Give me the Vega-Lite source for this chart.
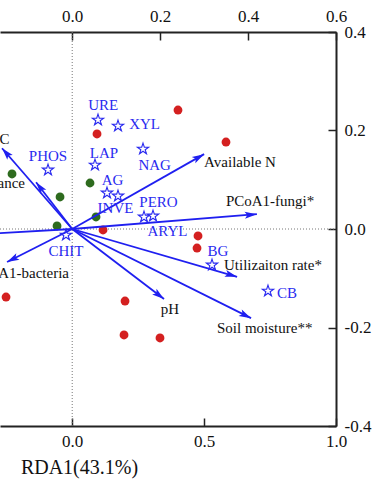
{
  "$schema": "https://vega.github.io/schema/vega-lite/v6.json",
  "width": 336,
  "height": 394,
  "autosize": {"type": "none"},
  "padding": {"left": 0, "top": 32, "right": 51, "bottom": 59},
  "background": "white",
  "config": {
    "view": {"stroke": null},
    "font": "Liberation Serif",
    "axis": {
      "labelFont": "Liberation Serif", "labelFontSize": 17, "labelColor": "#111",
      "titleFont": "Liberation Serif", "titleFontWeight": "normal", "titleColor": "#111",
      "domainColor": "#222", "domainWidth": 2, "tickColor": "#222", "tickWidth": 1.5,
      "grid": false, "labelFlush": false, "labelOverlap": false
    }
  },
  "datasets": {
    "red": [
      {"x": 0.401, "y": 0.2416}, {"x": 0.094, "y": 0.1929}, {"x": 0.583, "y": 0.1766},
      {"x": 0.1168, "y": -0.002}, {"x": 0.4769, "y": -0.0142}, {"x": 0.4731, "y": -0.0386},
      {"x": -0.2509, "y": -0.1381}, {"x": 0.2002, "y": -0.1462}, {"x": 0.1964, "y": -0.2152},
      {"x": 0.3328, "y": -0.2213}
    ],
    "green": [
      {"x": -0.2282, "y": 0.1117}, {"x": -0.0462, "y": 0.065}, {"x": -0.0576, "y": 0.0061},
      {"x": 0.0675, "y": 0.0934}, {"x": 0.0902, "y": 0.0244}
    ],
    "env": [
      {"name": "Available N", "x": 0.5, "y": 0.152},
      {"name": "PCoA1-fungi*", "x": 0.7, "y": 0.03},
      {"name": "Utilizaiton rate*", "x": 0.625, "y": -0.097},
      {"name": "pH", "x": 0.348, "y": -0.142},
      {"name": "Soil moisture**", "x": 0.678, "y": -0.181},
      {"name": "PCoA1-bacteria", "x": -0.247, "y": -0.067},
      {"name": "SOC", "x": -0.266, "y": 0.164},
      {"name": "Abundance", "x": -0.137, "y": 0.095},
      {"name": "other", "x": -0.501, "y": -0.015}
    ],
    "envLabC": [
      {"label": "Available N", "x": 0.636, "y": 0.136},
      {"label": "PCoA1-fungi*", "x": 0.75, "y": 0.0569},
      {"label": "Utilizaiton rate*", "x": 0.761, "y": -0.0731},
      {"label": "pH", "x": 0.3707, "y": -0.1624},
      {"label": "Soil moisture**", "x": 0.7297, "y": -0.201}
    ],
    "envLabR": [
      {"label": "SOC", "x": -0.238, "y": 0.1827},
      {"label": "Abundance", "x": -0.179, "y": 0.0934},
      {"label": "PCoA1-bacteria", "x": -0.0121, "y": -0.0893}
    ],
    "enz": [
      {"name": "URE", "x": 0.0978, "y": 0.2213},
      {"name": "XYL", "x": 0.1736, "y": 0.2091},
      {"name": "NAG", "x": 0.2684, "y": 0.1624},
      {"name": "LAP", "x": 0.0864, "y": 0.1299},
      {"name": "PHOS", "x": -0.0917, "y": 0.1198},
      {"name": "AG", "x": 0.1319, "y": 0.0731},
      {"name": "INVE", "x": 0.1736, "y": 0.067},
      {"name": "PERO", "x": 0.2722, "y": 0.0244},
      {"name": "ARYL", "x": 0.3063, "y": 0.0264},
      {"name": "CHIT", "x": -0.0235, "y": -0.0122},
      {"name": "BG", "x": 0.53, "y": -0.0731},
      {"name": "CB", "x": 0.7422, "y": -0.1259}
    ],
    "enzLab": [
      {"label": "URE", "x": 0.1175, "y": 0.2518},
      {"label": "XYL", "x": 0.2744, "y": 0.2132},
      {"label": "LAP", "x": 0.1205, "y": 0.1543},
      {"label": "PHOS", "x": -0.0917, "y": 0.1482},
      {"label": "NAG", "x": 0.3127, "y": 0.1299},
      {"label": "AG", "x": 0.1528, "y": 0.0995},
      {"label": "INVE", "x": 0.1641, "y": 0.0426},
      {"label": "PERO", "x": 0.3271, "y": 0.0548},
      {"label": "ARYL", "x": 0.3613, "y": -0.0041},
      {"label": "CHIT", "x": -0.0235, "y": -0.0447},
      {"label": "BG", "x": 0.5527, "y": -0.0447},
      {"label": "CB", "x": 0.8143, "y": -0.1299}
    ],
    "zeroV": [{"x": 0, "y": -0.4}],
    "zeroH": [{"x": -0.27375, "y": 0}]
  },
  "layer": [
    {
      "data": {"values": [{"t": 0}]},
      "mark": {"type": "rule", "opacity": 0},
      "encoding": {
        "x": {
          "field": "t", "type": "quantitative",
          "scale": {"domain": [-0.16425, 0.6], "nice": false, "zero": false},
          "axis": {"orient": "top", "values": [0, 0.2, 0.4, 0.6], "format": ".1f", "title": null, "tickSize": -8, "labelPadding": 15}
        }
      }
    },
    {
      "encoding": {
        "x": {
          "field": "x", "type": "quantitative",
          "scale": {"domain": [-0.27375, 1.0], "nice": false, "zero": false},
          "axis": {
            "orient": "bottom", "values": [-0.5, 0, 0.5, 1.0],
            "labelExpr": "datum.value < 0 ? '-' + format(-datum.value, '.1f') : format(datum.value, '.1f')",
            "title": "RDA1(43.1%)", "titleFontSize": 20, "titleX": 79, "titleY": 41,
            "titleAlign": "center", "titleBaseline": "middle", "tickSize": -8, "labelPadding": 15
          }
        },
        "y": {
          "field": "y", "type": "quantitative",
          "scale": {"domain": [-0.4, 0.4], "nice": false, "zero": false},
          "axis": {
            "orient": "right", "values": [-0.4, -0.2, 0, 0.2, 0.4],
            "labelExpr": "datum.value < 0 ? '-' + format(-datum.value, '.1f') : format(datum.value, '.1f')",
            "title": null, "tickSize": -8, "labelPadding": 16
          }
        }
      },
      "layer": [
        {
          "data": {"name": "zeroV"},
          "mark": {"type": "rule", "strokeDash": [1, 2], "color": "#777", "strokeWidth": 1},
          "encoding": {"y2": {"datum": 0.4}}
        },
        {
          "data": {"name": "zeroH"},
          "mark": {"type": "rule", "strokeDash": [1, 2], "color": "#777", "strokeWidth": 1},
          "encoding": {"x2": {"datum": 1.0}}
        },
        {
          "data": {"name": "red"},
          "mark": {"type": "point", "shape": "circle", "filled": true, "color": "#d42020", "size": 78, "opacity": 1}
        },
        {
          "data": {"name": "green"},
          "mark": {"type": "point", "shape": "circle", "filled": true, "color": "#2e6b1e", "size": 78, "opacity": 1}
        },
        {
          "data": {"name": "env"},
          "mark": {"type": "rule", "color": "#1f1ff0", "strokeWidth": 1.8},
          "encoding": {"x2": {"datum": 0}, "y2": {"datum": 0}}
        },
        {
          "data": {"name": "env"},
          "transform": [{"calculate": "atan2(datum.x * 263.79, datum.y * 492.5) * 180 / PI", "as": "angle"}],
          "mark": {"type": "point", "shape": "M0,0L-1.35,4.6L0,3.6L1.35,4.6Z", "filled": true, "color": "#1f1ff0", "size": 28, "opacity": 1},
          "encoding": {"angle": {"field": "angle", "type": "quantitative", "scale": null}}
        },
        {
          "data": {"name": "enz"},
          "mark": {"type": "point", "shape": "M0,-1L0.2245,-0.309L0.951,-0.309L0.3633,0.118L0.5878,0.809L0,0.382L-0.5878,0.809L-0.3633,0.118L-0.951,-0.309L-0.2245,-0.309Z", "filled": false, "color": "#2a2af0", "strokeWidth": 1.1, "size": 140, "opacity": 1}
        },
        {
          "data": {"name": "enzLab"},
          "mark": {"type": "text", "font": "Liberation Serif", "fontSize": 15, "fill": "#2a2af0", "align": "center", "baseline": "middle"},
          "encoding": {"text": {"field": "label", "type": "nominal"}}
        },
        {
          "data": {"name": "envLabC"},
          "mark": {"type": "text", "font": "Liberation Serif", "fontSize": 15, "fill": "#111", "align": "center", "baseline": "middle"},
          "encoding": {"text": {"field": "label", "type": "nominal"}}
        },
        {
          "data": {"name": "envLabR"},
          "mark": {"type": "text", "font": "Liberation Serif", "fontSize": 15, "fill": "#111", "align": "right", "baseline": "middle"},
          "encoding": {"text": {"field": "label", "type": "nominal"}}
        }
      ]
    }
  ],
  "resolve": {"scale": {"x": "independent"}}
}
